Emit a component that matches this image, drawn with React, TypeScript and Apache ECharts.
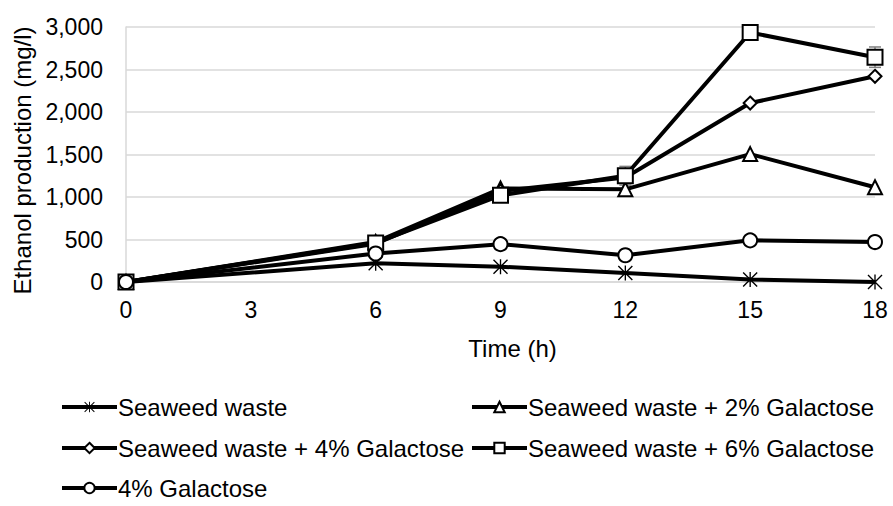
import React, { useEffect, useRef } from "react";
import * as echarts from "echarts";

const hours = [0, 6, 9, 12, 15, 18];
const seriesNames = [
  "Seaweed waste",
  "Seaweed waste + 2% Galactose",
  "Seaweed waste + 4% Galactose",
  "Seaweed waste + 6% Galactose",
  "4% Galactose",
];
const seaweed = [0, 220, 180, 105, 30, 0];
const gal2 = [0, 470, 1100, 1090, 1505, 1115];
const gal4sw = [0, 450, 1070, 1230, 2105, 2420];
const gal6 = [0, 460, 1020, 1250, 2935, 2645];
const gal4 = [0, 335, 445, 315, 490, 470];
const gal6Err = [0, 0, 0, 110, 0, 120];
const yTicks = [0, 500, 1000, 1500, 2000, 2500, 3000];

const asterisk =
  "path://M9.1 0 H10.9 V20 H9.1 Z M0 1.3 L1.3 0 L20 18.7 L18.7 20 Z M18.7 0 L20 1.3 L1.3 20 L0 18.7 Z";

const FONT = "Liberation Sans, Arial, sans-serif";

export default function App() {
  const ref = useRef<HTMLDivElement>(null);
  useEffect(() => {
    if (!ref.current) return;
    const chart = echarts.init(ref.current, null, { renderer: "svg" });
    const allValues = [seaweed, gal2, gal4sw, gal6, gal4];
    const symbols = [asterisk, "triangle", "diamond", "rect", "circle"];
    const sizes = [15, 14, 13, 15, 14];
    const lineSeries = allValues.map((vals, i) => ({
      name: seriesNames[i],
      type: "line",
      data: hours.map((h, j) => [h, vals[j]]),
      symbol: symbols[i],
      symbolSize: sizes[i],
      symbolKeepAspect: true,
      showAllSymbol: true,
      lineStyle: { color: "#000", width: 4 },
      itemStyle:
        i === 0
          ? { color: "#000", borderWidth: 0 }
          : { color: "#fff", borderColor: "#000", borderWidth: 2 },
      z: 3 + i,
    }));
    const legendPos = [
      { left: 60, top: 395 },
      { left: 470, top: 395 },
      { left: 60, top: 436 },
      { left: 470, top: 436 },
      { left: 60, top: 476 },
    ];
    chart.setOption({
      animation: false,
      textStyle: { fontFamily: FONT },
      grid: { left: 126, right: 18, top: 27, bottom: 224, containLabel: false, outerBoundsMode: "none" },
      xAxis: {
        type: "value",
        min: 0,
        max: 18,
        interval: 3,
        name: "Time (h)",
        nameLocation: "middle",
        nameGap: 54,
        nameTextStyle: { fontSize: 24, color: "#000", fontFamily: FONT, padding: [0, 0, 0, 24] },
        axisLine: { show: true, lineStyle: { color: "#d9d9d9", width: 1.5 } },
        axisTick: { show: false },
        axisLabel: { fontSize: 23, color: "#000", margin: 16, fontFamily: FONT },
        splitLine: { show: false },
      },
      yAxis: {
        type: "value",
        min: yTicks[0],
        max: yTicks[yTicks.length - 1],
        interval: 500,
        name: "Ethanol production (mg/l)",
        nameLocation: "middle",
        nameRotate: 90,
        nameGap: 90,
        nameTextStyle: { fontSize: 24, color: "#000", fontFamily: FONT, padding: [0, 12, 0, 0] },
        axisLine: { show: true, lineStyle: { color: "#d9d9d9", width: 1.5 } },
        axisTick: { show: false },
        axisLabel: {
          fontSize: 23,
          color: "#000",
          margin: 23,
          fontFamily: FONT,
          formatter: (v: number) => v.toLocaleString("en-US"),
        },
        splitLine: { show: true, lineStyle: { color: "#d9d9d9", width: 1.5 } },
      },
      legend: legendPos.map((p, i) => ({
        data: [seriesNames[i]],
        left: p.left,
        top: p.top,
        itemWidth: 55,
        itemHeight: 13,
        itemGap: 0,
        padding: 0,
        lineStyle: { width: 4, color: "#000" },
        textStyle: { fontSize: 24, color: "#000", fontFamily: FONT, padding: [0, 0, 0, -4] },
      })),
      series: [
        ...lineSeries,
        {
          type: "custom",
          name: "err",
          z: 2,
          data: hours
            .map((h, j) => [h, gal6[j], gal6Err[j]])
            .filter((d) => d[2] > 0),
          renderItem: (params: any, api: any) => {
            const x = api.value(0);
            const y = api.value(1);
            const e = api.value(2);
            const hi = api.coord([x, y + e]);
            const lo = api.coord([x, y - e]);
            const style = { stroke: "#7f7f7f", lineWidth: 1.5 };
            return {
              type: "group",
              children: [
                { type: "line", shape: { x1: hi[0], y1: hi[1], x2: lo[0], y2: lo[1] }, style },
                { type: "line", shape: { x1: hi[0] - 6, y1: hi[1], x2: hi[0] + 6, y2: hi[1] }, style },
                { type: "line", shape: { x1: lo[0] - 6, y1: lo[1], x2: lo[0] + 6, y2: lo[1] }, style },
              ],
            };
          },
        },
      ],
    });
    return () => chart.dispose();
  }, []);
  return <div ref={ref} style={{ width: 893, height: 506, position: "absolute", left: 0, top: 0 }} />;
}
